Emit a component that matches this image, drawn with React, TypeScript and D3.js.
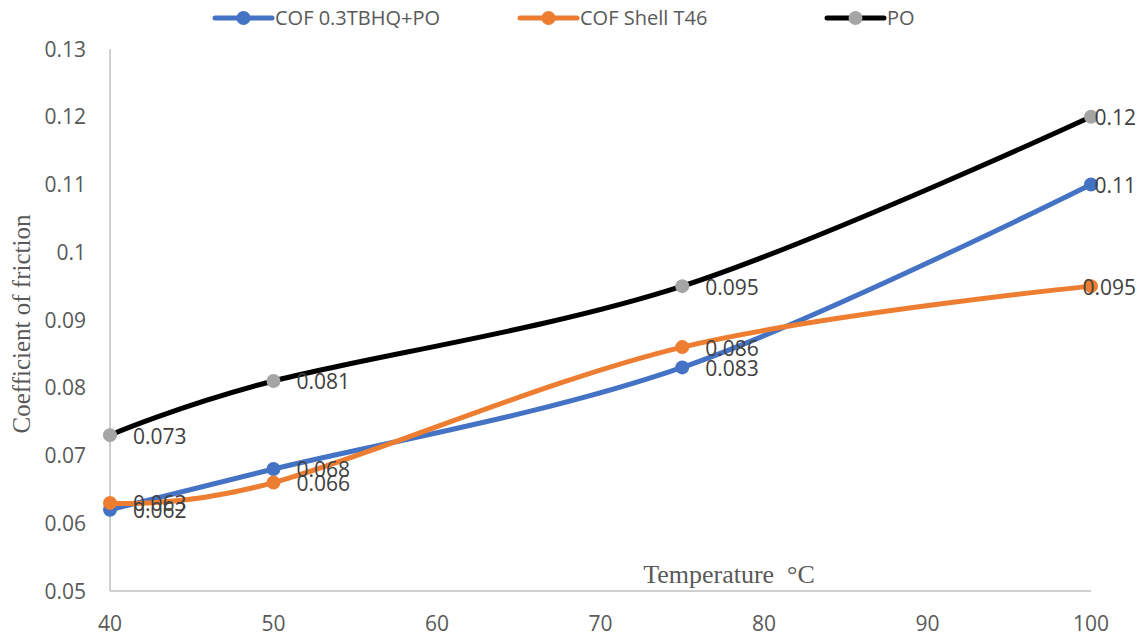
import * as d3 from 'd3';
import React, { useRef, useEffect } from 'react';

const temps = [40, 50, 75, 100];
const tbhq = [0.062, 0.068, 0.083, 0.11];
const shell = [0.063, 0.066, 0.086, 0.095];
const po = [0.073, 0.081, 0.095, 0.12];

const seriesNames = ['COF 0.3TBHQ+PO', 'COF Shell T46', 'PO'];
const xTicks = [40, 50, 60, 70, 80, 90, 100];
const yTicks = [0.05, 0.06, 0.07, 0.08, 0.09, 0.1, 0.11, 0.12, 0.13];

function App(): any {
  const ref = useRef(null);
  const width = 1139;
  const height = 636;

  useEffect(() => {
    const svg = d3.select(ref.current);
    svg.selectAll('*').remove();

    const x = d3.scaleLinear().domain([40, 100]).range([110, 1091]);
    const y = d3.scaleLinear().domain([0.05, 0.13]).range([591, 49]);

    const series = [
      { name: seriesNames[0], values: tbhq, color: '#4472C4', marker: '#4472C4' },
      { name: seriesNames[1], values: shell, color: '#ED7D31', marker: '#ED7D31' },
      { name: seriesNames[2], values: po, color: '#000000', marker: '#A5A5A5' },
    ];

    const tickFont = "'Open Sans', 'Noto Sans', sans-serif";
    const serif = "'Liberation Serif', 'DejaVu Serif', serif";

    // axes lines
    svg.append('line')
      .attr('x1', x(40)).attr('x2', x(40))
      .attr('y1', y(0.13)).attr('y2', y(0.05))
      .attr('stroke', '#BFBFBF').attr('stroke-width', 1.5);
    svg.append('line')
      .attr('x1', x(40)).attr('x2', x(100))
      .attr('y1', y(0.05)).attr('y2', y(0.05))
      .attr('stroke', '#BFBFBF').attr('stroke-width', 1.5);

    // tick labels
    svg.append('g').selectAll('text')
      .data(yTicks)
      .enter()
      .append('text')
      .attr('x', 86)
      .attr('y', (d: number) => y(d))
      .attr('dy', '0.36em')
      .attr('text-anchor', 'end')
      .style('font-family', tickFont)
      .style('font-size', '21px')
      .attr('fill', '#595959')
      .text((d: number) => String(+d.toFixed(2)));

    svg.append('g').selectAll('text')
      .data(xTicks)
      .enter()
      .append('text')
      .attr('x', (d: number) => x(d))
      .attr('y', 631)
      .attr('text-anchor', 'middle')
      .style('font-family', tickFont)
      .style('font-size', '21px')
      .attr('fill', '#595959')
      .text((d: number) => String(d));

    // axis titles
    svg.append('text')
      .attr('transform', 'translate(30,324) rotate(-90)')
      .attr('text-anchor', 'middle')
      .style('font-family', serif)
      .style('font-size', '25px')
      .attr('fill', '#595959')
      .text('Coefficient of friction');

    svg.append('text')
      .attr('x', 729)
      .attr('y', 583)
      .attr('text-anchor', 'middle')
      .style('font-family', serif)
      .style('font-size', '26px')
      .style('white-space', 'pre')
      .attr('fill', '#595959')
      .text('Temperature  °C');

    const line = d3.line<number>()
      .x((_d: number, i: number) => x(temps[i]))
      .y((d: number) => y(d))
      .curve(d3.curveCardinal.tension(0));

    series.forEach((s) => {
      svg.append('path')
        .attr('d', line(s.values) as string)
        .attr('fill', 'none')
        .attr('stroke', s.color)
        .attr('stroke-width', 5)
        .attr('stroke-linecap', 'round');
    });

    series.forEach((s) => {
      svg.append('g').selectAll('circle')
        .data(s.values)
        .enter()
        .append('circle')
        .attr('cx', (_d: number, i: number) => x(temps[i]))
        .attr('cy', (d: number) => y(d))
        .attr('r', 7)
        .attr('fill', s.marker);
    });

    // data labels, kept inside the chart at the right edge
    series.forEach((s) => {
      s.values.forEach((v, i) => {
        const t = svg.append('text')
          .attr('y', y(v))
          .attr('dy', '0.4em')
          .style('font-family', tickFont)
          .style('font-size', '21px')
          .attr('fill', '#404040')
          .text(String(v));
        const w = (t.node() as SVGTextElement).getComputedTextLength();
        const px = Math.min(x(temps[i]) + 23, width - 3 - w);
        t.attr('x', px);
      });
    });

    // legend
    const legendX = [215, 520, 827];
    series.forEach((s, i) => {
      const g = svg.append('g').attr('transform', 'translate(' + legendX[i] + ',18)');
      g.append('line')
        .attr('x1', 0).attr('x2', 57)
        .attr('y1', 0).attr('y2', 0)
        .attr('stroke', s.color)
        .attr('stroke-width', 5)
        .attr('stroke-linecap', 'round');
      g.append('circle')
        .attr('cx', 28.5).attr('cy', 0).attr('r', 7)
        .attr('fill', s.marker);
      g.append('text')
        .attr('x', 60)
        .attr('y', 0)
        .attr('dy', '0.36em')
        .style('font-family', tickFont)
        .style('font-size', '20px')
        .attr('fill', '#595959')
        .text(s.name);
    });
  }, []);

  return (
    <svg
      ref={ref}
      width={width}
      height={height}
      style={{ position: 'absolute', left: 0, top: 0, background: '#fff' }}
    />
  );
}

export default App;
